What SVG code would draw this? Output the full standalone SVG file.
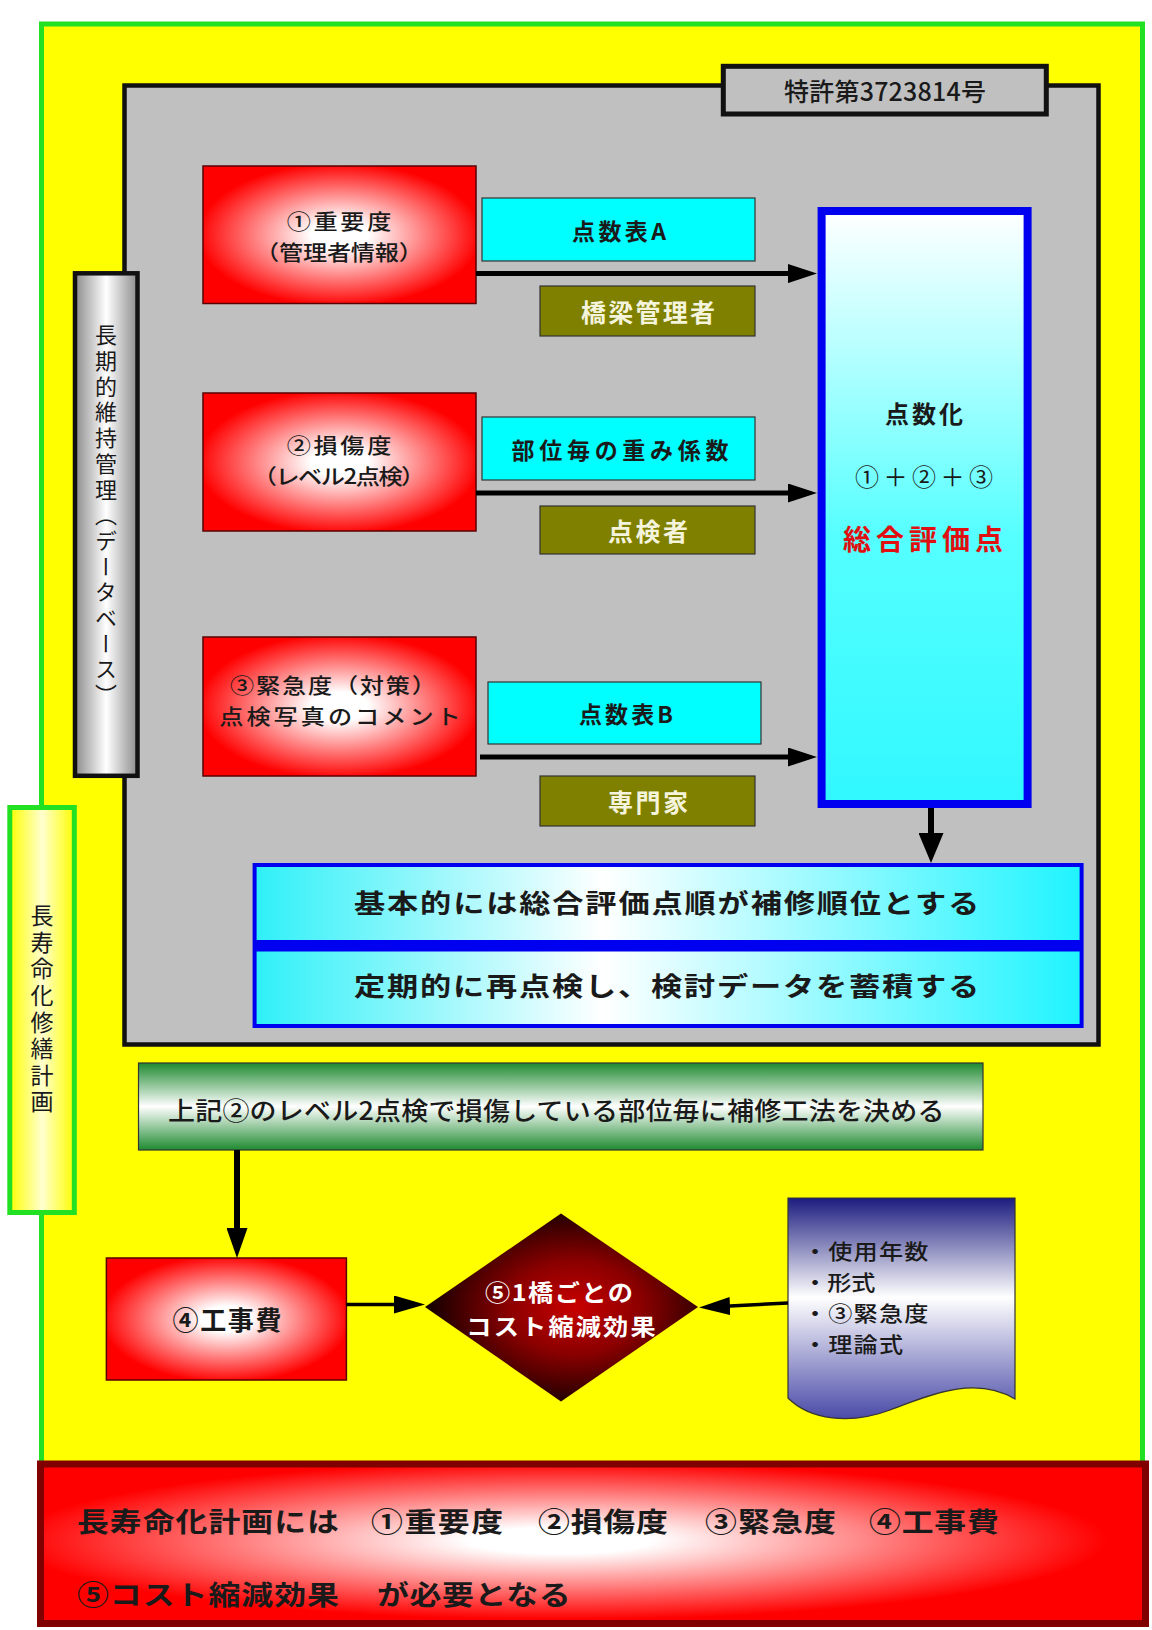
<svg xmlns="http://www.w3.org/2000/svg" width="1152" height="1630" viewBox="0 0 1152 1630">
<defs>
<style>
text { font-family: "Noto Sans CJK JP", "Noto Sans", sans-serif; fill:#1a1a1a; dominant-baseline:central; }
.b { font-weight:bold; }
.c { text-anchor:middle; }
.cyan { fill:#00ffff; stroke:#333; stroke-width:1.2; }
.olive { fill:#808000; stroke:#333; stroke-width:1.2; }
.olt { fill:#f4f4dc; font-weight:bold; font-size:25px; text-anchor:middle; }
.red { fill:url(#gRed); stroke:#5a0000; stroke-width:1.5; }
.rt { font-size:21px; text-anchor:middle; font-weight:500; }
.dt { font-size:21px; font-weight:500; }
.conn { stroke:#000; fill:none; }
.vt { writing-mode:vertical-rl; }
</style>
<radialGradient id="gRed" cx="50%" cy="50%" r="52%">
<stop offset="0" stop-color="#ffffff"/>
<stop offset="0.2" stop-color="#ffffff"/>
<stop offset="1" stop-color="#ff0000"/>
</radialGradient>
<radialGradient id="gBar" cx="47%" cy="48%" r="55%">
<stop offset="0" stop-color="#ffffff"/>
<stop offset="0.15" stop-color="#ffffff"/>
<stop offset="0.9" stop-color="#ff0000"/>
<stop offset="1" stop-color="#ff0000"/>
</radialGradient>
<radialGradient id="gDia" cx="55%" cy="50%" r="55%">
<stop offset="0" stop-color="#c80000"/>
<stop offset="0.45" stop-color="#8a0000"/>
<stop offset="1" stop-color="#100000"/>
</radialGradient>
<linearGradient id="gDoc" x1="0" y1="0" x2="0" y2="1">
<stop offset="0" stop-color="#1c1c80"/>
<stop offset="0.45" stop-color="#ffffff"/>
<stop offset="1" stop-color="#4a4aa8"/>
</linearGradient>
<linearGradient id="gTall" x1="0" y1="0" x2="0" y2="1">
<stop offset="0" stop-color="#ffffff"/>
<stop offset="0.55" stop-color="#55ffff"/>
<stop offset="1" stop-color="#30f8ff"/>
</linearGradient>
<linearGradient id="gRow" x1="0" y1="0" x2="1" y2="0">
<stop offset="0" stop-color="#30f0f8"/>
<stop offset="0.42" stop-color="#ffffff"/>
<stop offset="1" stop-color="#20f4ff"/>
</linearGradient>
<linearGradient id="gDb" x1="0" y1="0" x2="1" y2="0">
<stop offset="0" stop-color="#8c8c8c"/>
<stop offset="0.5" stop-color="#ffffff"/>
<stop offset="1" stop-color="#8c8c8c"/>
</linearGradient>
<linearGradient id="gYel" x1="0" y1="0" x2="1" y2="0">
<stop offset="0" stop-color="#ffff00"/>
<stop offset="0.5" stop-color="#ffffd0"/>
<stop offset="1" stop-color="#ffff00"/>
</linearGradient>
<linearGradient id="gGreen" x1="0" y1="0" x2="0" y2="1">
<stop offset="0" stop-color="#1e8a30"/>
<stop offset="0.5" stop-color="#ffffff"/>
<stop offset="1" stop-color="#1e8a30"/>
</linearGradient>
<marker id="ah" markerUnits="userSpaceOnUse" viewBox="0 0 29 19" markerWidth="29" markerHeight="19" refX="0" refY="9.5" orient="auto"><path d="M0,0 L29,9.5 L0,19 z" fill="#000"/></marker>
<marker id="ahB" markerUnits="userSpaceOnUse" viewBox="0 0 30 25" markerWidth="30" markerHeight="25" refX="0" refY="12.5" orient="auto"><path d="M0,0 L30,12.5 L0,25 z" fill="#000"/></marker>
<marker id="ahC" markerUnits="userSpaceOnUse" viewBox="0 0 30 21" markerWidth="30" markerHeight="21" refX="0" refY="10.5" orient="auto"><path d="M0,0 L30,10.5 L0,21 z" fill="#000"/></marker>
<marker id="ahS" markerUnits="userSpaceOnUse" viewBox="0 0 31 18" markerWidth="31" markerHeight="18" refX="0" refY="9" orient="auto"><path d="M0,0 L31,9 L0,18 z" fill="#000"/></marker>
</defs>
<rect x="0" y="0" width="1152" height="1630" fill="#ffffff"/>

<g id="outer-frame">
<rect x="41.5" y="24" width="1101" height="1442" fill="#ffff00" stroke="#22e022" stroke-width="5"/>
</g>

<g id="panel">
<rect x="124.5" y="85.5" width="974" height="959" fill="#c0c0c0" stroke="#111" stroke-width="4.5"/>
</g>

<g id="patent">
<rect x="723.3" y="66.3" width="323" height="47.7" fill="#c0c0c0" stroke="#111" stroke-width="5"/>
<text x="885" y="90" class="c" font-size="25" font-weight="500" textLength="202">特許第3723814号</text>
</g>

<g id="database-bar">
<rect x="75" y="273.3" width="62.5" height="502.5" fill="url(#gDb)" stroke="#111" stroke-width="4.5"/>
<text x="106" y="324" class="vt" font-size="22" letter-spacing="3.7">長期的維持管理（データベース）</text>
</g>

<g id="plan-bar">
<rect x="9.8" y="807.5" width="64.5" height="405" fill="url(#gYel)" stroke="#22e022" stroke-width="5"/>
<text x="42" y="904" class="vt" font-size="23" letter-spacing="3.6">長寿命化修繕計画</text>
</g>

<g id="node-importance">
<rect x="203" y="166" width="273" height="137.5" class="red"/>
<text transform="translate(339,220) scale(1.15,1)" x="0" y="0" class="rt" textLength="91">①重要度</text>
<text transform="translate(339,251) scale(1.15,1)" x="0" y="0" class="rt" textLength="146">（管理者情報）</text>
</g>

<g id="node-damage">
<rect x="203" y="393" width="273" height="138" class="red"/>
<text transform="translate(339,444) scale(1.15,1)" x="0" y="0" class="rt" textLength="91">②損傷度</text>
<text transform="translate(339,475) scale(1.15,1)" x="0" y="0" class="rt" textLength="150">（レベル2点検）</text>
</g>

<g id="node-urgency">
<rect x="203" y="637" width="273" height="139" class="red"/>
<text transform="translate(333,684) scale(1.15,1)" x="0" y="0" class="rt" textLength="179">③緊急度（対策）</text>
<text transform="translate(340,715) scale(1.15,1)" x="0" y="0" class="rt" textLength="210">点検写真のコメント</text>
</g>

<g id="table-a">
<rect x="482" y="198" width="273" height="63" class="cyan"/>
<text x="619" y="230" class="c b" font-size="23" textLength="94">点数表A</text>
</g>
<g id="bridge-manager">
<rect x="540" y="286" width="215" height="50" class="olive"/>
<text x="648" y="311" class="olt" textLength="134">橋梁管理者</text>
</g>

<g id="weight-coef">
<rect x="482" y="417" width="273" height="63" class="cyan"/>
<text x="620" y="449" class="c b" font-size="23" textLength="217">部位毎の重み係数</text>
</g>
<g id="inspector">
<rect x="540" y="506" width="215" height="48" class="olive"/>
<text x="648" y="530" class="olt" textLength="80">点検者</text>
</g>

<g id="table-b">
<rect x="488" y="682" width="273" height="62" class="cyan"/>
<text x="626" y="713" class="c b" font-size="23" textLength="94">点数表B</text>
</g>
<g id="expert">
<rect x="540" y="776" width="215" height="50" class="olive"/>
<text x="648" y="801" class="olt" textLength="80">専門家</text>
</g>

<g id="scoring">
<rect x="821.6" y="211" width="206" height="593" fill="url(#gTall)" stroke="#0000f0" stroke-width="8"/>
<text x="924" y="412" class="c b" font-size="24" textLength="78">点数化</text>
<text x="924" y="475" class="c" font-size="24" textLength="138">①＋②＋③</text>
<text x="923" y="538" class="c b" font-size="28" style="fill:#e01010" textLength="160">総合評価点</text>
</g>

<g id="priority-box">
<rect x="256.6" y="867" width="823" height="157" fill="#0000f0" stroke="#0000f0" stroke-width="8"/>
<rect x="256.6" y="867" width="823" height="73" fill="url(#gRow)"/>
<rect x="256.6" y="951.5" width="823" height="72.5" fill="url(#gRow)"/>
<text transform="translate(354,902) scale(1.2,1)" x="0" y="0" class="b" font-size="26" textLength="521">基本的には総合評価点順が補修順位とする</text>
<text transform="translate(354,985) scale(1.2,1)" x="0" y="0" class="b" font-size="26" textLength="521">定期的に再点検し、検討データを蓄積する</text>
</g>

<g id="repair-method">
<rect x="138.5" y="1063" width="844.5" height="87" fill="url(#gGreen)" stroke="#333" stroke-width="1.2"/>
<text transform="translate(168,1109) scale(1.08,1)" x="0" y="0" font-size="25" font-weight="500" textLength="719">上記②のレベル2点検で損傷している部位毎に補修工法を決める</text>
</g>

<g id="node-cost">
<rect x="106.4" y="1258" width="240" height="122" class="red"/>
<text x="227" y="1318" class="c b" font-size="26" textLength="109">④工事費</text>
</g>

<g id="node-effect">
<polygon points="425,1307 561,1213.5 698,1307 561,1401.5" fill="url(#gDia)"/>
<text transform="translate(559,1291) scale(1.12,1)" x="0" y="0" class="c b" font-size="22.5" style="fill:#ffffff" textLength="132">⑤1橋ごとの</text>
<text transform="translate(561,1325) scale(1.12,1)" x="0" y="0" class="c b" font-size="22.5" style="fill:#ffffff" textLength="169">コスト縮減効果</text>
</g>

<g id="factors-doc">
<path d="M788,1198 H1015 V1399 C975,1375 930,1395 890,1410 C850,1425 810,1420 788,1398 Z" fill="url(#gDoc)" stroke="#333" stroke-width="1.2"/>
<text transform="translate(803,1250) scale(1.15,1)" x="0" y="0" class="dt" textLength="109">・使用年数</text>
<text transform="translate(803,1281) scale(1.15,1)" x="0" y="0" class="dt">・形式</text>
<text transform="translate(803,1312) scale(1.15,1)" x="0" y="0" class="dt" textLength="109">・③緊急度</text>
<text transform="translate(803,1343) scale(1.15,1)" x="0" y="0" class="dt" textLength="87">・理論式</text>
</g>

<g id="summary-bar">
<rect x="40.5" y="1464" width="1105" height="159.5" fill="url(#gBar)" stroke="#800000" stroke-width="7"/>
<text transform="translate(77,1521) scale(1.18,1)" x="0" y="0" class="b" font-size="27" textLength="222">長寿命化計画には</text>
<text transform="translate(371,1521) scale(1.18,1)" x="0" y="0" class="b" font-size="27" textLength="112">①重要度</text>
<text transform="translate(538,1521) scale(1.18,1)" x="0" y="0" class="b" font-size="27" textLength="110">②損傷度</text>
<text transform="translate(705,1521) scale(1.18,1)" x="0" y="0" class="b" font-size="27" textLength="111">③緊急度</text>
<text transform="translate(869,1521) scale(1.18,1)" x="0" y="0" class="b" font-size="27" textLength="110">④工事費</text>
<text transform="translate(77,1594) scale(1.18,1)" x="0" y="0" class="b" font-size="27" textLength="222">⑤コスト縮減効果</text>
<text transform="translate(377,1594) scale(1.18,1)" x="0" y="0" class="b" font-size="27" textLength="164">が必要となる</text>
</g>

<g id="connectors">
<path class="conn" d="M476,273.6 H788" stroke-width="5" marker-end="url(#ah)"/>
<path class="conn" d="M476,493 H788" stroke-width="5" marker-end="url(#ah)"/>
<path class="conn" d="M480,757 H788" stroke-width="5" marker-end="url(#ah)"/>
<path class="conn" d="M931,808 V833" stroke-width="6" marker-end="url(#ahB)"/>
<path class="conn" d="M237,1150 V1228" stroke-width="6" marker-end="url(#ahC)"/>
<path class="conn" d="M346,1304.5 H394" stroke-width="3.5" marker-end="url(#ahS)"/>
<path class="conn" d="M788,1303 L730,1306" stroke-width="3.5" marker-end="url(#ahS)"/>
</g>
</svg>
